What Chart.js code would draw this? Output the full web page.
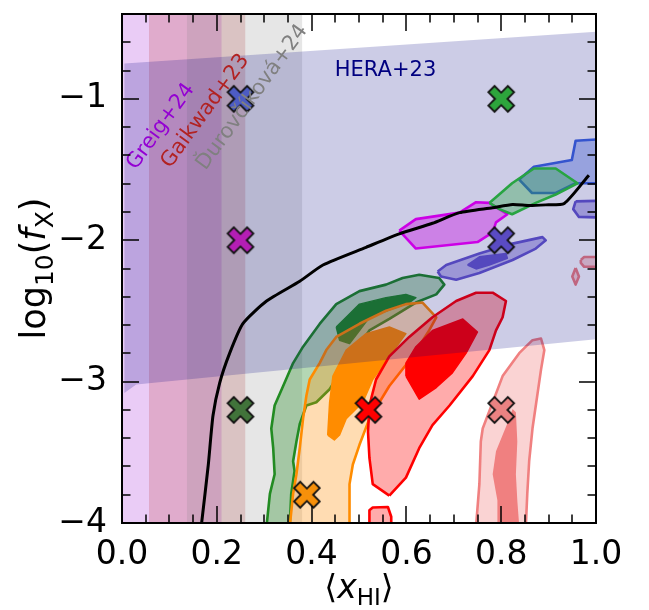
<!DOCTYPE html>
<html>
<head>
<meta charset="utf-8">
<script src="https://cdn.jsdelivr.net/npm/chart.js@4.4.0/dist/chart.umd.min.js"></script>
<style>
  html, body { margin: 0; padding: 0; background: #fff; }
  #wrap { width: 649px; height: 610px; }
</style>
</head>
<body>
<div id="wrap"><canvas id="myChart" width="649" height="610"></canvas></div>
<script>
// axes
const xTicks = [0, 0.2, 0.4, 0.6, 0.8, 1.0];
const yTicks = [-4, -3, -2, -1];
const xRange = [0, 1];
const yRange = [-4, -0.4];

// literature constraints (vertical bands in <x_HI>)
const bandLabels = ['Greig+24', 'Gaikwad+23', 'Ďurovčíková+24'];
const bandLo = [0.0, 0.057, 0.137];
const bandHi = [0.21, 0.26, 0.38];

// HERA+23 allowed region
const heraX = [0.005, 0.005, 1.0, 1.0, 0.03];
const heraY = [-3.08, -0.75, -0.525, -2.70, -3.02];

// black boundary curve
const curveX = [0.168, 0.182, 0.192, 0.206, 0.227, 0.255, 0.305, 0.375, 0.424, 0.515, 0.585, 0.655, 0.712, 0.782, 0.824, 0.859, 0.894, 0.933, 0.985];
const curveY = [-4.0, -3.59, -3.24, -3.01, -2.80, -2.59, -2.43, -2.29, -2.175, -2.05, -1.955, -1.88, -1.805, -1.77, -1.747, -1.755, -1.75, -1.74, -1.54];

// true parameters of the mock observations
const crossX = [0.25, 0.25, 0.25, 0.39, 0.52, 0.8, 0.8, 0.8];
const crossY = [-1, -2, -3.2, -3.8, -3.2, -3.2, -2, -1];

// posterior contours [x, y]
const greenOuter = [[0.305,-4.02],[0.312,-3.794],[0.322,-3.655],[0.319,-3.471],[0.315,-3.332],[0.322,-3.169],[0.340,-3.031],[0.361,-2.869],[0.382,-2.753],[0.417,-2.592],[0.452,-2.452],[0.501,-2.360],[0.557,-2.314],[0.592,-2.267],[0.627,-2.244],[0.669,-2.267],[0.680,-2.314],[0.663,-2.383],[0.620,-2.441],[0.564,-2.556],[0.522,-2.638],[0.473,-2.869],[0.438,-3.054],[0.410,-3.146],[0.389,-3.169],[0.375,-3.30],[0.368,-3.424],[0.361,-3.563],[0.364,-3.632],[0.357,-3.794],[0.354,-4.02]];
const greenInner = [[0.452,-2.614],[0.473,-2.545],[0.501,-2.452],[0.557,-2.406],[0.599,-2.383],[0.620,-2.406],[0.606,-2.441],[0.522,-2.545],[0.501,-2.638],[0.480,-2.730],[0.459,-2.707]];
const orangeOuter = [[0.354,-4.02],[0.361,-3.794],[0.368,-3.655],[0.375,-3.471],[0.382,-3.262],[0.389,-3.100],[0.396,-2.985],[0.417,-2.869],[0.431,-2.777],[0.452,-2.684],[0.501,-2.591],[0.557,-2.499],[0.599,-2.452],[0.634,-2.441],[0.663,-2.545],[0.648,-2.638],[0.613,-2.822],[0.564,-3.031],[0.522,-3.262],[0.501,-3.447],[0.487,-3.586],[0.480,-3.725],[0.480,-4.02]];
const orangeInner = [[0.434,-3.378],[0.438,-3.146],[0.445,-2.961],[0.473,-2.777],[0.515,-2.661],[0.564,-2.614],[0.599,-2.661],[0.564,-2.822],[0.529,-2.985],[0.508,-3.146],[0.473,-3.262],[0.459,-3.378],[0.448,-3.412]];
const redOuter = [[0.564,-3.806],[0.529,-3.725],[0.522,-3.540],[0.519,-3.355],[0.522,-3.169],[0.536,-2.985],[0.564,-2.822],[0.606,-2.684],[0.655,-2.545],[0.705,-2.430],[0.747,-2.371],[0.782,-2.371],[0.810,-2.430],[0.803,-2.545],[0.789,-2.638],[0.775,-2.777],[0.740,-2.961],[0.691,-3.169],[0.655,-3.308],[0.627,-3.471],[0.599,-3.679]];
const redInner = [[0.599,-2.961],[0.599,-2.869],[0.620,-2.753],[0.655,-2.638],[0.719,-2.557],[0.750,-2.649],[0.726,-2.799],[0.697,-2.938],[0.663,-3.042],[0.627,-3.124]];
const redSmall = [[0.522,-4.02],[0.522,-3.91],[0.529,-3.89],[0.561,-3.887],[0.568,-3.956],[0.568,-4.02]];
const coralOuter = [[0.747,-4.02],[0.754,-3.724],[0.757,-3.424],[0.761,-3.332],[0.782,-3.147],[0.803,-2.961],[0.838,-2.799],[0.866,-2.707],[0.884,-2.695],[0.891,-2.777],[0.884,-2.915],[0.876,-3.100],[0.866,-3.332],[0.859,-3.563],[0.855,-3.794],[0.852,-4.02]];
const coralInner = [[0.792,-4.02],[0.792,-3.840],[0.782,-3.655],[0.789,-3.493],[0.803,-3.378],[0.817,-3.262],[0.824,-3.193],[0.831,-3.216],[0.834,-3.424],[0.831,-3.655],[0.834,-3.840],[0.838,-4.02]];
const coralDiamond = [[0.957,-2.196],[0.964,-2.256],[0.957,-2.314],[0.950,-2.256]];
const coralEdge = [[0.968,-2.14],[0.975,-2.119],[1.02,-2.119],[1.02,-2.188],[0.975,-2.188],[0.968,-2.16]];
const slateOuter = [[0.666,-2.221],[0.684,-2.175],[0.754,-2.094],[0.824,-2.024],[0.887,-1.978],[0.894,-2.001],[0.873,-2.059],[0.824,-2.140],[0.754,-2.232],[0.705,-2.279],[0.673,-2.256]];
const slateInner = [[0.729,-2.175],[0.754,-2.117],[0.810,-2.094],[0.813,-2.128],[0.775,-2.175],[0.747,-2.203]];
const slateEdge = [[0.957,-1.725],[1.02,-1.72],[1.02,-1.84],[0.964,-1.835],[0.952,-1.78]];
const magentaOuter = [[0.585,-1.932],[0.620,-1.851],[0.712,-1.805],[0.747,-1.731],[0.775,-1.736],[0.813,-1.816],[0.789,-1.874],[0.782,-1.944],[0.750,-2.013],[0.620,-2.059]];
const blueOuter = [[1.02,-1.284],[0.957,-1.296],[0.949,-1.432],[0.869,-1.481],[0.838,-1.571],[0.865,-1.666],[0.915,-1.666],[0.957,-1.597],[1.02,-1.597]];
const limeOuter = [[0.775,-1.736],[0.823,-1.597],[0.869,-1.493],[0.915,-1.493],[0.961,-1.597],[0.915,-1.677],[0.873,-1.736],[0.823,-1.816],[0.796,-1.78]];

// styles
const FONT = 'DejaVu Sans';
const EDGE = 2.6;
const bandColors = ['rgba(148,0,211,0.2)', 'rgba(178,34,34,0.2)', 'rgba(128,128,128,0.2)'];
const bandTextColors = ['#9400d3', '#b22222', '#808080'];
const crossColors = ['#4d5cc4', '#b41eb4', '#41733a', '#f7900a', '#ff0000', '#eb8282', '#5a4bc3', '#2da53c'];

const toPts = arr => arr.map(p => ({x: p[0], y: p[1]}));

function shape(arr, fillColor, edgeColor, edgeWidth) {
  const pts = toPts(arr);
  pts.push({x: arr[0][0], y: arr[0][1]});
  return {
    data: pts,
    fill: 'shape',
    backgroundColor: fillColor,
    borderColor: edgeColor || 'rgba(0,0,0,0)',
    borderWidth: edgeWidth || 0.01,
    borderJoinStyle: 'round',
    pointRadius: 0,
    tension: 0,
    clip: 0,
  };
}

function makeCross(color) {
  const c = document.createElement('canvas');
  c.width = 34; c.height = 34;
  const g = c.getContext('2d');
  g.translate(17, 17);
  g.rotate(Math.PI / 4);
  const a = 13.8, t = 4.4;
  g.beginPath();
  g.moveTo(-t, -a); g.lineTo(t, -a); g.lineTo(t, -t); g.lineTo(a, -t);
  g.lineTo(a, t); g.lineTo(t, t); g.lineTo(t, a); g.lineTo(-t, a);
  g.lineTo(-t, t); g.lineTo(-a, t); g.lineTo(-a, -t); g.lineTo(-t, -t);
  g.closePath();
  g.fillStyle = color;
  g.fill();
  g.lineWidth = 1.8;
  g.strokeStyle = '#111';
  g.stroke();
  return c;
}

// layers, bottom first
const layers = [];
bandLo.forEach((lo, i) => {
  const hi = bandHi[i];
  layers.push(shape([[lo, -4.1], [lo, -0.3], [hi, -0.3], [hi, -4.1]], bandColors[i]));
});
layers.push(shape(greenOuter, 'rgba(34,139,34,0.34)', '#228b22', EDGE));
layers.push(shape(greenInner, '#228b22', '#228b22', 1.5));
layers.push(shape(orangeOuter, 'rgba(255,140,0,0.3)', '#ff8c00', EDGE));
layers.push(shape(orangeInner, '#ff8c00', '#ff8c00', 1.5));
layers.push(shape(redOuter, 'rgba(255,0,0,0.33)', '#ff0000', EDGE));
layers.push(shape(redInner, '#ff0000', '#ff0000', 1.5));
layers.push(shape(redSmall, 'rgba(255,0,0,0.33)', '#ff0000', EDGE));
layers.push(shape(coralOuter, 'rgba(240,128,128,0.35)', '#f08080', EDGE));
layers.push(shape(coralInner, '#f08080'));
layers.push(shape(coralDiamond, 'rgba(240,128,128,0.35)', '#f08080', EDGE));
layers.push(shape(coralEdge, 'rgba(240,128,128,0.35)', '#f08080', EDGE));
layers.push(shape(slateOuter, 'rgba(106,90,205,0.4)', '#6a5acd', EDGE));
layers.push(shape(slateInner, '#6a5acd', '#6a5acd', 1.5));
layers.push(shape(slateEdge, 'rgba(106,90,205,0.4)', '#6a5acd', EDGE));
layers.push(shape(magentaOuter, 'rgba(255,0,255,0.37)', '#ff00ff', EDGE));
layers.push(shape(blueOuter, 'rgba(65,105,225,0.35)', '#4169e1', EDGE));
layers.push(shape(limeOuter, 'rgba(50,205,50,0.35)', '#32cd32', EDGE));
layers.push(shape(heraX.map((v, i) => [v, heraY[i]]), 'rgba(0,0,128,0.2)'));
layers.push({
  data: toPts(curveX.map((v, i) => [v, curveY[i]])),
  borderColor: '#000',
  borderWidth: 3,
  borderJoinStyle: 'round',
  pointRadius: 0,
  tension: 0.2,
  fill: false,
  clip: 0,
});
layers.push({
  data: toPts(crossX.map((v, i) => [v, crossY[i]])),
  showLine: false,
  pointStyle: crossColors.map(makeCross),
  pointRadius: 13,
  fill: false,
  clip: false,
});
layers.forEach((d, i) => { d.order = layers.length - i; });

const annotations = [
  {text: bandLabels[0], x: 0.082, y: -1.196, color: bandTextColors[0]},
  {text: bandLabels[1], x: 0.176, y: -1.087, color: bandTextColors[1]},
  {text: bandLabels[2], x: 0.275, y: -0.99, color: bandTextColors[2]},
];

function drawRich(ctx, parts, x, y, size) {
  const fontFor = p => (p.it ? 'italic ' : '') + Math.round(p.sub ? size * 0.7 : size) + 'px "' + FONT + '"';
  let w = 0;
  parts.forEach(p => { ctx.font = fontFor(p); w += ctx.measureText(p.t).width; });
  let cx = x - w / 2;
  ctx.textAlign = 'left';
  ctx.textBaseline = 'alphabetic';
  parts.forEach(p => {
    ctx.font = fontFor(p);
    ctx.fillText(p.t, cx, y + (p.sub ? size * 0.22 : 0));
    cx += ctx.measureText(p.t).width;
  });
}

const decor = {
  id: 'decor',
  afterDatasetsDraw(chart) {
    const {ctx, chartArea: a, scales: {x, y}} = chart;
    ctx.save();
    // band labels
    ctx.font = '21px "' + FONT + '"';
    ctx.textAlign = 'center';
    ctx.textBaseline = 'middle';
    annotations.forEach(n => {
      ctx.save();
      ctx.translate(x.getPixelForValue(n.x), y.getPixelForValue(n.y));
      ctx.rotate(-54 * Math.PI / 180);
      ctx.fillStyle = n.color;
      ctx.fillText(n.text, 0, 0);
      ctx.restore();
    });
    ctx.fillStyle = '#000080';
    ctx.fillText('HERA+23', x.getPixelForValue(0.556), y.getPixelForValue(-0.80));

    // ticks, inward on all four sides
    ctx.strokeStyle = '#000';
    ctx.lineWidth = 1.5;
    ctx.beginPath();
    for (let i = 0; i <= 20; i++) {
      const px = Math.round(x.getPixelForValue(i * 0.05));
      const len = i % 4 === 0 ? 17 : 8.5;
      ctx.moveTo(px, a.bottom); ctx.lineTo(px, a.bottom - len);
      ctx.moveTo(px, a.top); ctx.lineTo(px, a.top + len);
    }
    for (let i = 0; i <= 18; i++) {
      const py = Math.round(y.getPixelForValue(-4 + i * 0.2));
      const len = i % 5 === 0 ? 17 : 8.5;
      ctx.moveTo(a.left, py); ctx.lineTo(a.left + len, py);
      ctx.moveTo(a.right, py); ctx.lineTo(a.right - len, py);
    }
    ctx.stroke();
    ctx.lineWidth = 2;
    ctx.strokeRect(a.left, a.top, a.right - a.left, a.bottom - a.top);
    ctx.restore();
  },
  afterDraw(chart) {
    const {ctx, chartArea: a} = chart;
    ctx.save();
    ctx.fillStyle = '#000';
    drawRich(ctx, [{t: '\u27e8'}, {t: 'x', it: 1}, {t: 'HI', sub: 1}, {t: '\u27e9'}], (a.left + a.right) / 2, 598, 33);
    ctx.translate(45, (a.top + a.bottom) / 2);
    ctx.rotate(-Math.PI / 2);
    drawRich(ctx, [{t: 'log'}, {t: '10', sub: 1}, {t: '('}, {t: 'f', it: 1}, {t: 'X', sub: 1}, {t: ')'}], 0, 0, 35);
    ctx.restore();
  },
};

const myChart = new Chart(document.getElementById('myChart'), {
  type: 'line',
  data: {datasets: layers},
  options: {
    responsive: false,
    animation: false,
    events: [],
    layout: {padding: {left: 0, right: 53, top: 4, bottom: 0}},
    plugins: {legend: {display: false}, tooltip: {enabled: false}},
    scales: {
      x: {
        type: 'linear',
        min: xRange[0],
        max: xRange[1],
        grid: {display: false},
        border: {display: false},
        afterBuildTicks: s => { s.ticks = xTicks.map(v => ({value: v})); },
        afterFit: s => { s.height = 87; s.paddingLeft = 0; s.paddingRight = 0; },
        ticks: {
          font: {family: FONT, size: 33},
          color: '#000',
          padding: 5,
          maxRotation: 0,
          autoSkip: false,
          callback: v => v.toFixed(1),
        },
      },
      y: {
        type: 'linear',
        min: yRange[0],
        max: yRange[1],
        grid: {display: false},
        border: {display: false},
        afterBuildTicks: s => { s.ticks = yTicks.map(v => ({value: v})); },
        afterFit: s => { s.width = 122; s.paddingTop = 0; s.paddingBottom = 0; },
        ticks: {
          font: {family: FONT, size: 33},
          color: '#000',
          padding: 7,
          autoSkip: false,
          callback: v => (v < 0 ? '\u2212' : '') + Math.abs(v),
        },
      },
    },
  },
  plugins: [decor],
});
</script>
</body>
</html>
